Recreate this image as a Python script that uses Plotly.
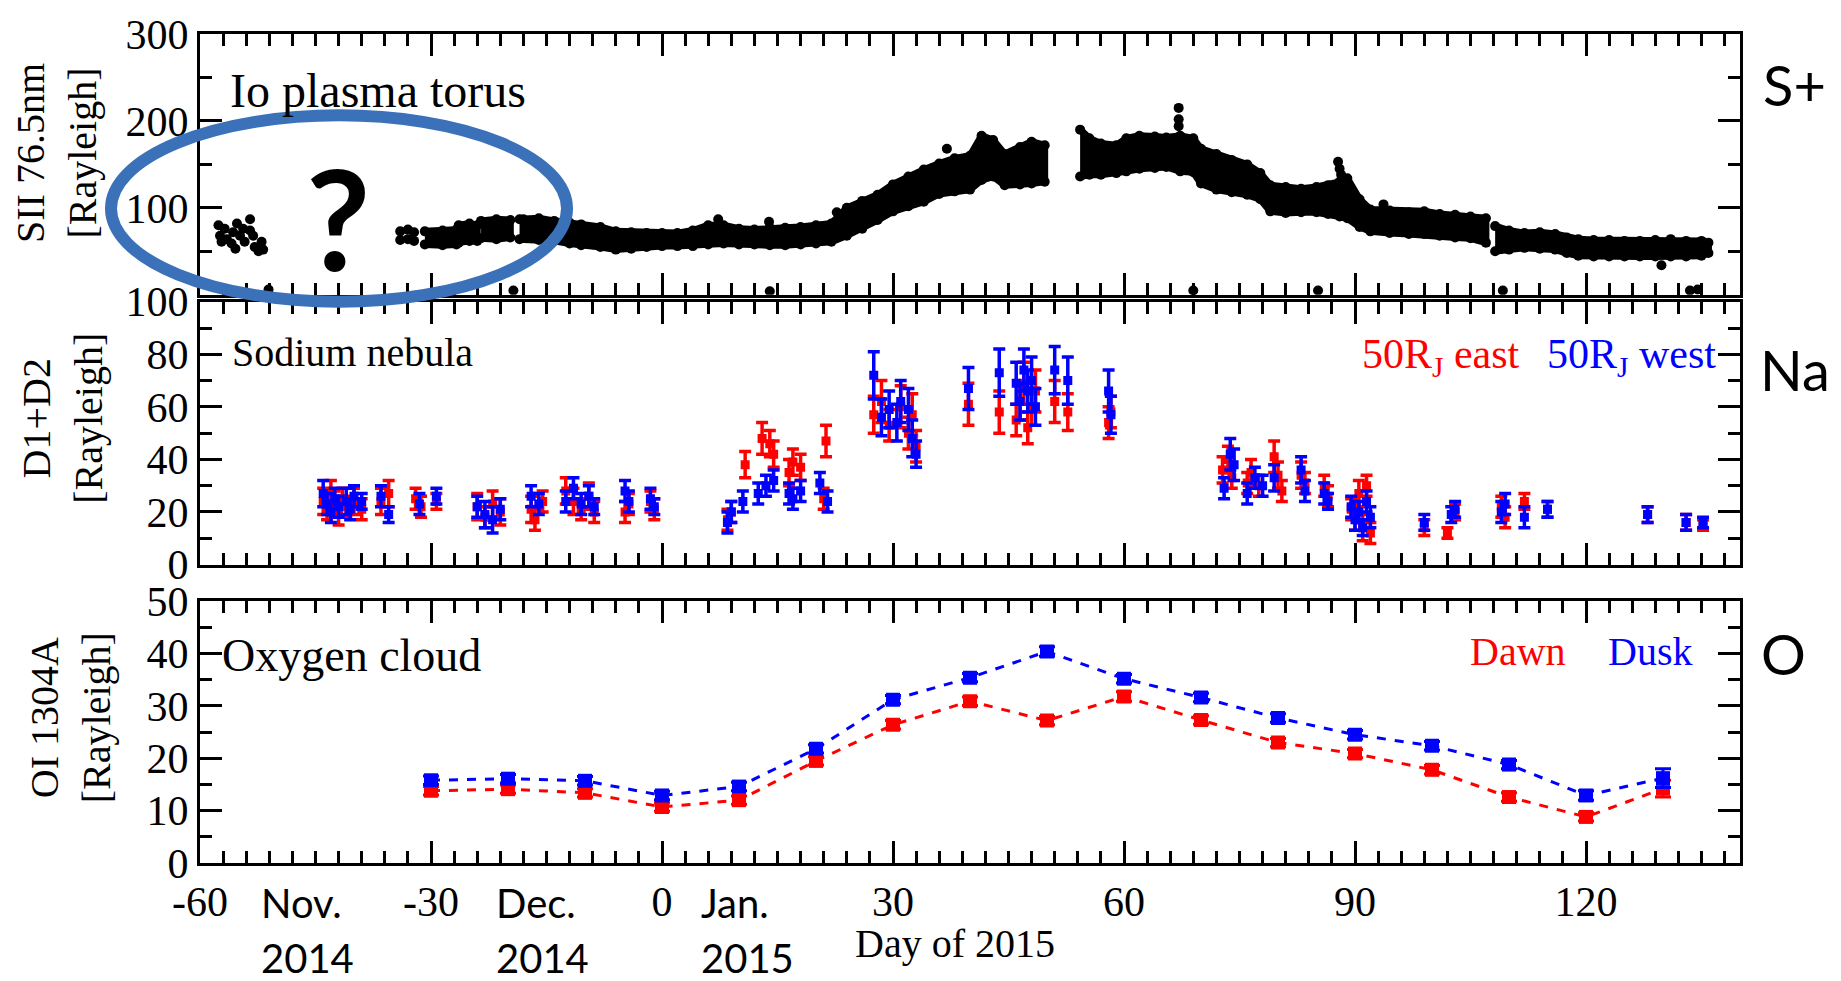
import plotly.graph_objects as go

# ---------------- DATA ----------------
# Top panel: S+ (SII 76.5 nm) — dense band segments: day, lower edge, upper edge
seg1_day = [-30.8, -28.5, -26.7]
seg1_lo = [58, 57, 58]
seg1_hi = [73, 74, 75]

seg2_day = [-26.4, -25.0, -24.0]
seg2_lo = [60, 62, 62]
seg2_hi = [80, 82, 80]

seg3_day = [-23.5, -21.5, -19.7]
seg3_lo = [65, 64, 66]
seg3_hi = [85, 87, 86]

seg4_day = [-18.5, -16, -14, -12, -10.5, -8, -6, -4, -2, 0, 2, 4, 6, 8, 10, 12, 14, 16, 18, 20,
            22, 24, 26, 28, 30, 32, 34, 36, 38, 40, 41.5, 43, 44.5, 46.5, 48, 49.7]
seg4_lo = [64, 63, 62, 59, 57, 55, 52, 53, 55, 56, 56, 56, 58, 59, 58, 58, 57, 57, 58, 59,
           61, 68, 76, 86, 96, 102, 107, 116, 119, 121, 132, 136, 126, 127, 128, 130]
seg4_hi = [87, 88, 85, 83, 81, 78, 73, 72, 71, 71, 71, 74, 80, 80, 76, 75, 77, 77, 78, 80,
           82, 100, 108, 115, 127, 136, 144, 151, 157, 160, 183, 178, 162, 170, 176, 172]

seg5_day = [54.3, 55.5, 57, 59, 60.3, 62, 64, 65.5, 67.3, 69, 70, 72, 74, 76, 77.7, 79, 81, 83,
            85, 86.5, 88, 89, 90.6, 92, 94.5, 97, 99, 101, 103, 105, 107]
seg5_lo = [136, 138, 138, 140, 142, 145, 146, 147, 142, 141, 128, 121, 118, 115, 110, 96, 94, 95,
           95, 93, 90, 88, 78, 73, 71, 70, 70, 68, 66, 65, 60]
seg5_hi = [190, 180, 174, 172, 180, 183, 182, 181, 183, 180, 168, 162, 155, 150, 140, 126, 124, 122,
           124, 126, 130, 134, 110, 98, 97, 95, 96, 93, 92, 90, 88]

seg6_day = [108.2, 110, 112, 114, 116, 117.5, 119, 121, 123, 125, 127, 129, 131, 133, 135, 135.9]
seg6_lo = [50, 52, 54, 53, 52, 48, 45, 44, 44, 44, 44, 44, 44, 44, 45, 48]
seg6_hi = [79, 74, 71, 72, 70, 66, 64, 63, 63, 62, 62, 63, 64, 62, 62, 60]

# Top panel: isolated dots (early cluster, outliers)
dot_day = [-57.6, -57.4, -57.2, -56.8, -56.5, -55.9, -55.7, -55.4, -55.2, -54.8, -54.4, -54.2,
           -53.5, -53.5, -53.1, -52.9, -52.4, -52.0, -51.8,
           -34.0, -33.0, -32.2, -34.0, -33.0, -32.2,
           -51.1, -19.3, 14.0, 69.0, 85.2, 109.2, 133.5, 134.5,
           -18.0, 7.3, 13.9, 22.7, 37.0, 67.1, 67.1, 67.1, 87.8, 88.0, 88.2, 93.7, 129.8]
dot_val = [80, 68, 61, 76, 64, 59, 72, 53, 82, 68, 76, 61,
           87, 74, 68, 55, 50, 61, 52,
           73, 75, 72, 63, 64, 62,
           6, 5, 4, 5, 5, 5, 5, 6,
           87, 87, 84, 95, 168, 215, 202, 194, 153, 145, 138, 104, 34]

# Middle panel: Na D1+D2, 50RJ east (red)
na_e_day = [-44.0, -43.5, -43.0, -42.5, -42.0, -41.5, -41.0, -40.0, -39.0, -36.5, -35.5, -32.0, -31.3,
            -29.3, -24.0, -23.0, -22.0, -21.0, -17.0, -16.5, -15.5, -12.5, -11.5, -10.5, -9.5, -8.8,
            -4.8, -4.3, -1.5, -1.0, 8.5, 9.0, 10.8, 13.0, 14.0, 14.5, 16.5, 17.0, 18.0, 21.0, 21.3,
            27.5, 28.5, 29.5, 31.0, 32.0, 32.5, 33.0, 39.8, 43.8, 46.0, 46.5, 47.0, 47.5, 48.0, 48.5,
            51.0, 52.7, 58.0, 58.3, 72.8, 73.5, 74.0, 76.0, 76.5, 77.5, 79.5, 80.0, 80.5, 83.0, 83.5,
            86.0, 86.5, 89.5, 90.0, 90.5, 91.0, 91.5, 92.0, 99.0, 102.0, 103.0, 109.0, 109.5, 112.0,
            115.0, 128.0, 133.0, 135.2]
na_e_val = [24, 21, 27, 23, 19, 25, 22, 24, 21, 24, 27, 25, 22,
            24, 22, 18, 23, 20, 21, 17, 24, 28, 24, 21, 26, 20,
            20, 23, 24, 21, 17, 20, 38, 48, 46, 42, 35, 39, 37, 25, 47,
            57, 62, 53, 60, 50, 57, 45, 61, 58, 55, 62, 69, 52, 60, 66,
            62, 58, 54, 58, 36, 40, 33, 31, 35, 30, 41, 34, 28, 34, 31,
            30, 26, 21, 18, 27, 14, 30, 12, 14, 12, 20, 22, 18, 24,
            21, 19, 16, 15]
na_e_err = [5, 4, 5, 5, 4, 4, 4, 5, 4, 5, 5, 4, 4,
            3, 5, 4, 5, 5, 5, 4, 4, 5, 5, 4, 5, 4,
            4, 4, 4, 4, 4, 4, 5, 6, 5, 5, 5, 5, 5, 4, 6,
            7, 8, 6, 8, 6, 8, 6, 8, 8, 6, 7, 8, 6, 7, 8,
            8, 7, 6, 6, 5, 5, 4, 4, 5, 4, 6, 5, 4, 5, 4,
            4, 4, 4, 5, 5, 5, 4, 4, 3, 2, 3, 4, 4, 3,
            3, 3, 3, 2]

# Middle panel: 50RJ west (blue)
na_w_day = [-44.0, -43.5, -43.0, -42.5, -42.0, -41.0, -40.5, -40.0, -39.0, -36.5, -35.5, -31.5,
            -29.3, -24.0, -23.0, -22.0, -21.0, -17.0, -16.0, -12.5, -11.5, -10.5, -9.5, -8.8,
            -4.8, -4.3, -1.5, -1.0, 8.5, 9.0, 10.5, 12.5, 13.5, 14.5, 16.5, 17.0, 18.0, 20.5, 21.5,
            27.5, 28.5, 29.5, 30.5, 31.0, 32.0, 32.5, 33.0, 39.8, 43.8, 46.0, 46.5, 47.0, 47.5, 48.0,
            48.5, 51.0, 52.7, 58.0, 58.3, 73.0, 73.8, 74.3, 76.0, 77.0, 78.0, 79.5, 83.0, 83.5,
            86.0, 86.5, 89.5, 90.0, 90.5, 91.0, 91.5, 92.0, 99.0, 102.5, 103.0, 109.0, 109.5, 112.0,
            115.0, 128.0, 133.0, 135.2]
na_w_val = [27, 23, 20, 25, 22, 24, 21, 26, 24, 26, 19, 23,
            26, 22, 19, 17, 21, 26, 23, 24, 29, 23, 26, 22,
            28, 24, 25, 22, 16, 20, 24, 27, 30, 32, 27, 25, 28, 31, 24,
            72, 56, 59, 54, 62, 59, 48, 42, 67, 73, 69, 62, 74, 66, 70,
            60, 74, 70, 66, 57, 29, 42, 38, 27, 33, 30, 33, 36, 28,
            27, 24, 22, 17, 20, 14, 24, 18, 16, 19, 21, 20, 23, 18,
            21, 19, 16, 16]
na_w_err = [5, 4, 4, 4, 4, 5, 4, 4, 3, 4, 3, 4,
            3, 4, 5, 5, 4, 4, 4, 4, 4, 4, 4, 3,
            4, 4, 4, 3, 4, 4, 4, 4, 4, 4, 4, 4, 4, 4, 4,
            9, 7, 7, 7, 8, 8, 7, 5, 8, 9, 8, 7, 8, 8, 9,
            7, 9, 9, 8, 7, 4, 6, 6, 4, 4, 4, 5, 5, 4,
            4, 3, 4, 4, 4, 3, 4, 4, 3, 3, 3, 4, 4, 4,
            3, 3, 3, 2]

# Bottom panel: OI 130.4 nm, Dawn (red) / Dusk (blue)
o_day = [-30, -20, -10, 0, 10, 20, 30, 40, 50, 60, 70, 80, 90, 100, 110, 120, 130]
o_dawn = [13.8, 14.1, 13.4, 10.7, 12.0, 19.5, 26.4, 30.9, 27.2, 31.8, 27.3, 23.0, 20.9, 17.8, 12.6, 8.8, 14.2]
o_dawn_err = [0.8, 0.8, 0.8, 0.8, 0.8, 0.8, 0.8, 0.8, 0.8, 0.9, 0.8, 0.8, 0.8, 0.8, 0.8, 0.8, 1.6]
o_dusk = [15.8, 16.1, 15.7, 12.9, 14.6, 21.8, 31.2, 35.4, 40.4, 35.2, 31.6, 27.7, 24.5, 22.4, 18.8, 12.9, 16.2]
o_dusk_err = [0.8, 0.8, 0.8, 0.8, 0.8, 0.8, 0.8, 0.8, 0.9, 0.8, 0.8, 0.8, 0.8, 0.8, 0.8, 0.9, 1.8]

# Axis tick labels
x_ticks = [-60, -30, 0, 30, 60, 90, 120]
x_text = ["-60", "-30", "0", "30", "60", "90", "120"]
y1_ticks = [0, 100, 200, 300]
y1_text = ["", "100", "200", "300"]
y2_ticks = [0, 20, 40, 60, 80, 100]
y3_ticks = [0, 10, 20, 30, 40, 50]

# ---------------- FIGURE ----------------
RED = "#ff0000"
BLUE = "#0000ff"
SERIF = "Liberation Serif"
SANS = "Lato"

W, H = 1841, 981
L, R, T, B = 200, 101, 27, 118
PW, PH = W - L - R, H - T - B


def px(X):
    return (X - L) / PW


def py(Y):
    return (H - B - Y) / PH


fig = go.Figure()

# top panel band segments
for d, lo, hi in [(seg1_day, seg1_lo, seg1_hi), (seg2_day, seg2_lo, seg2_hi),
                  (seg3_day, seg3_lo, seg3_hi), (seg4_day, seg4_lo, seg4_hi),
                  (seg5_day, seg5_lo, seg5_hi), (seg6_day, seg6_lo, seg6_hi)]:
    fig.add_trace(go.Scatter(x=d + d[::-1], y=hi + lo[::-1], mode="lines", fill="toself",
                             fillcolor="black", line=dict(color="black", width=7),
                             xaxis="x", yaxis="y", hoverinfo="skip"))
    fig.add_trace(go.Scatter(x=d + d, y=hi + lo, mode="markers",
                             marker=dict(color="black", size=10, symbol="circle"),
                             xaxis="x", yaxis="y"))
fig.add_trace(go.Scatter(x=dot_day, y=dot_val, mode="markers",
                         marker=dict(color="black", size=10), xaxis="x", yaxis="y"))

# middle panel
fig.add_trace(go.Scatter(x=na_e_day, y=na_e_val, mode="markers",
                         marker=dict(color=RED, size=9, symbol="square"),
                         error_y=dict(type="data", array=na_e_err, color=RED, thickness=3.5, width=6),
                         xaxis="x2", yaxis="y2"))
fig.add_trace(go.Scatter(x=na_w_day, y=na_w_val, mode="markers",
                         marker=dict(color=BLUE, size=9, symbol="square"),
                         error_y=dict(type="data", array=na_w_err, color=BLUE, thickness=3.5, width=6),
                         xaxis="x2", yaxis="y2"))

# bottom panel
fig.add_trace(go.Scatter(x=o_day, y=o_dawn, mode="lines+markers",
                         line=dict(color=RED, width=3, dash="dash"),
                         marker=dict(color=RED, size=14, symbol="square"),
                         error_y=dict(type="data", array=o_dawn_err, color=RED, thickness=3, width=8),
                         xaxis="x3", yaxis="y3"))
fig.add_trace(go.Scatter(x=o_day, y=o_dusk, mode="lines+markers",
                         line=dict(color=BLUE, width=3, dash="dash"),
                         marker=dict(color=BLUE, size=14, symbol="square"),
                         error_y=dict(type="data", array=o_dusk_err, color=BLUE, thickness=3, width=8),
                         xaxis="x3", yaxis="y3"))

tickfont = dict(family=SERIF, size=42, color="black")


def xax(anchor, labels):
    return dict(domain=[0, 1], anchor=anchor, range=[-60, 140], tickmode="array", tickvals=x_ticks,
                ticktext=x_text, showticklabels=labels, tickfont=tickfont, ticks="inside",
                ticklen=22, tickwidth=3, tickcolor="black",
                minor=dict(dtick=3, tick0=0, ticks="inside", ticklen=12, tickwidth=2.5,
                           tickcolor="black"),
                showline=True, linewidth=3, linecolor="black", mirror="allticks",
                showgrid=False, zeroline=False)


def yax(anchor, dom, rng, tv, tt, minor):
    return dict(domain=dom, anchor=anchor, range=rng, tickmode="array", tickvals=tv, ticktext=tt,
                tickfont=tickfont, ticks="inside", ticklen=22, tickwidth=3, tickcolor="black",
                minor=dict(dtick=minor, tick0=0, ticks="inside", ticklen=12, tickwidth=2.5,
                           tickcolor="black"),
                showline=True, linewidth=3, linecolor="black", mirror="allticks",
                showgrid=False, zeroline=False)


fig.update_layout(
    width=W, height=H, margin=dict(l=L, r=R, t=T, b=B, pad=0),
    paper_bgcolor="white", plot_bgcolor="white", showlegend=False,
    xaxis=xax("y", False), xaxis2=xax("y2", False), xaxis3=xax("y3", True),
    yaxis=yax("x", [py(290), 1.0], [0, 300], y1_ticks, y1_text, 50),
    yaxis2=yax("x2", [py(562), py(297)], [0, 100], y2_ticks, [str(v) for v in y2_ticks], 10),
    yaxis3=yax("x3", [0.0, py(599)], [0, 50], y3_ticks, [str(v) for v in y3_ticks], 5),
)

ann = []


def A(text, X, Y, size, family=SERIF, color="black", xanchor="left", angle=0, bold=False):
    ann.append(dict(text=text, x=px(X), y=py(Y), xref="paper", yref="paper", showarrow=False,
                    xanchor=xanchor, yanchor="middle", textangle=angle,
                    font=dict(family=family, size=size, color=color,
                              weight="bold" if bold else "normal")))


A("Io plasma torus", 228, 84, 48)
A("Sodium nebula", 230, 348, 40)
A("Oxygen cloud", 220, 654, 46)
A("50R<sub>J</sub> east", 1360, 353, 42, color=RED)
A("50R<sub>J</sub> west", 1545, 353, 42, color=BLUE)
A("Dawn", 1468, 650, 40, color=RED)
A("Dusk", 1606, 650, 40, color=BLUE)
A("S+", 1794, 78, 56, family=SANS, xanchor="center")
A("Na", 1795, 365, 56, family=SANS, xanchor="center")
A("O", 1784, 652, 56, family=SANS, xanchor="center")
A("Nov.", 259, 903, 40, family=SANS)
A("2014", 259, 959, 40, family=SANS)
A("Dec.", 494, 903, 40, family=SANS)
A("2014", 494, 959, 40, family=SANS)
A("Jan.", 699, 903, 40, family=SANS)
A("2015", 699, 959, 40, family=SANS)
A("Day of 2015", 955, 944, 40, xanchor="center")
A("SII 76.5nm<br>[Rayleigh]", 57, 147, 40, xanchor="center", angle=-90)
A("D1+D2<br>[Rayleigh]", 63, 415, 40, xanchor="center", angle=-90)
A("OI 1304A<br>[Rayleigh]", 70, 717, 40, xanchor="center", angle=-90)
A("?", 338, 212, 140, family=SANS, xanchor="center", bold=True)
fig.update_layout(annotations=ann)

fig.add_shape(type="circle", xref="paper", yref="paper",
              x0=px(111), x1=px(567), y0=py(297), y1=py(109),
              line=dict(color="#3b71b8", width=12), layer="above")

fig.write_html("out.html", config={"displayModeBar": False},
               post_script="document.body.style.margin='0';")
